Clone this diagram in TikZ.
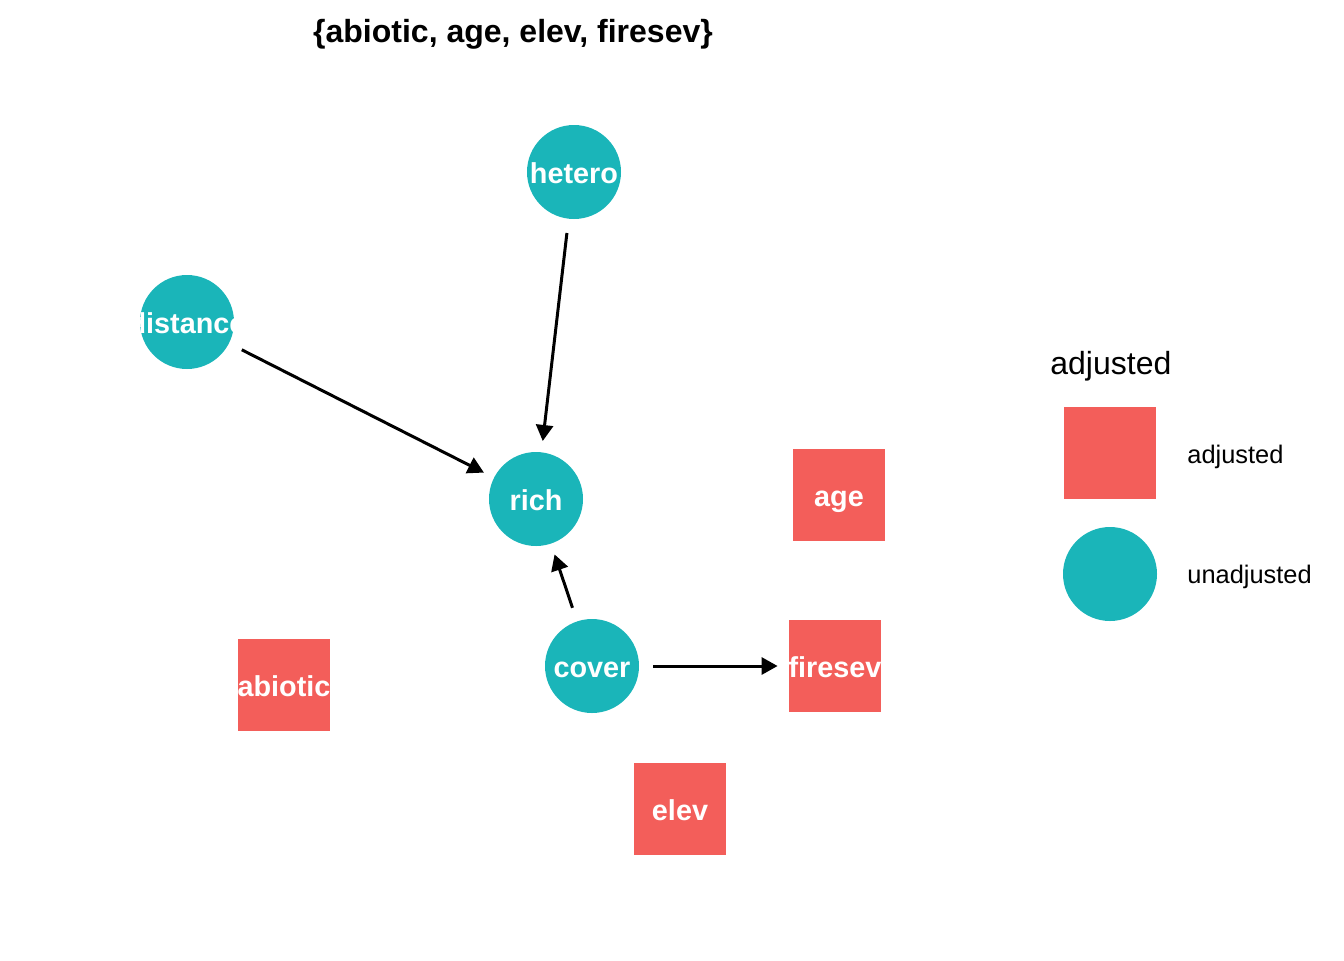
\documentclass[tikz,border=0pt]{standalone}
\usepackage{fontspec}
\setmainfont{Liberation Sans}
\usetikzlibrary{arrows.meta}
\definecolor{unadj}{RGB}{26,181,185}
\definecolor{adj}{RGB}{243,94,90}
\newcommand{\varfont}{\fontsize{14.4}{16}\selectfont\bfseries}

\begin{document}
\begin{tikzpicture}[x=0.5pt, y=-0.5pt,
  lbl/.style={path picture={\node[text=white, font=\varfont, inner sep=0pt, anchor=base]
      at ([yshift=-5.5pt]path picture bounding box.center) {#1};}},
  var/.style={circle, fill=unadj, minimum size=47pt, inner sep=0pt},
  adjvar/.style={rectangle, fill=adj, minimum size=46pt, inner sep=0pt},
  key/.style={font=\fontsize{12.7}{14}\selectfont, anchor=base west, inner sep=0pt}]
\useasboundingbox (0,0) rectangle (1344,960);
\node[font=\fontsize{16}{18}\selectfont\bfseries, anchor=base, inner sep=0pt] (title) at (513,42) {\{abiotic, age, elev, firesev\}};
\node[var, lbl=hetero]      (hetero)   at (574,172) {};
\node[var, lbl=distance]    (distance) at (187,322) {};
\node[var, lbl=rich]        (rich)     at (536,499) {};
\node[var, lbl=cover]       (cover)    at (592,666) {};
\node[adjvar, lbl=age]      (age)      at (839,495) {};
\node[adjvar, lbl=firesev]  (firesev)  at (835,666) {};
\node[adjvar, lbl=abiotic]  (abiotic)  at (284,685) {};
\node[adjvar, lbl=elev]     (elev)     at (680,809) {};
% legend
\node[font=\fontsize{16}{18}\selectfont, anchor=base west, inner sep=0pt] (legtitle) at (1050,374) {adjusted};
\node[adjvar] (legadj)   at (1110,453) {};
\node[var]    (legunadj) at (1110,574) {};
\node[key] (legadjtxt)   at (1187,463) {adjusted};
\node[key] (legunadjtxt) at (1187,583) {unadjusted};
\path[-{Triangle[length=8pt,width=8.5pt]}, line width=1.5pt, shorten <=7pt, shorten >=5.5pt]
    (hetero)   edge (rich)
    (distance) edge (rich)
    (cover)    edge (rich)
    (cover)    edge (firesev)
; %-path-%
\end{tikzpicture}
\end{document}
